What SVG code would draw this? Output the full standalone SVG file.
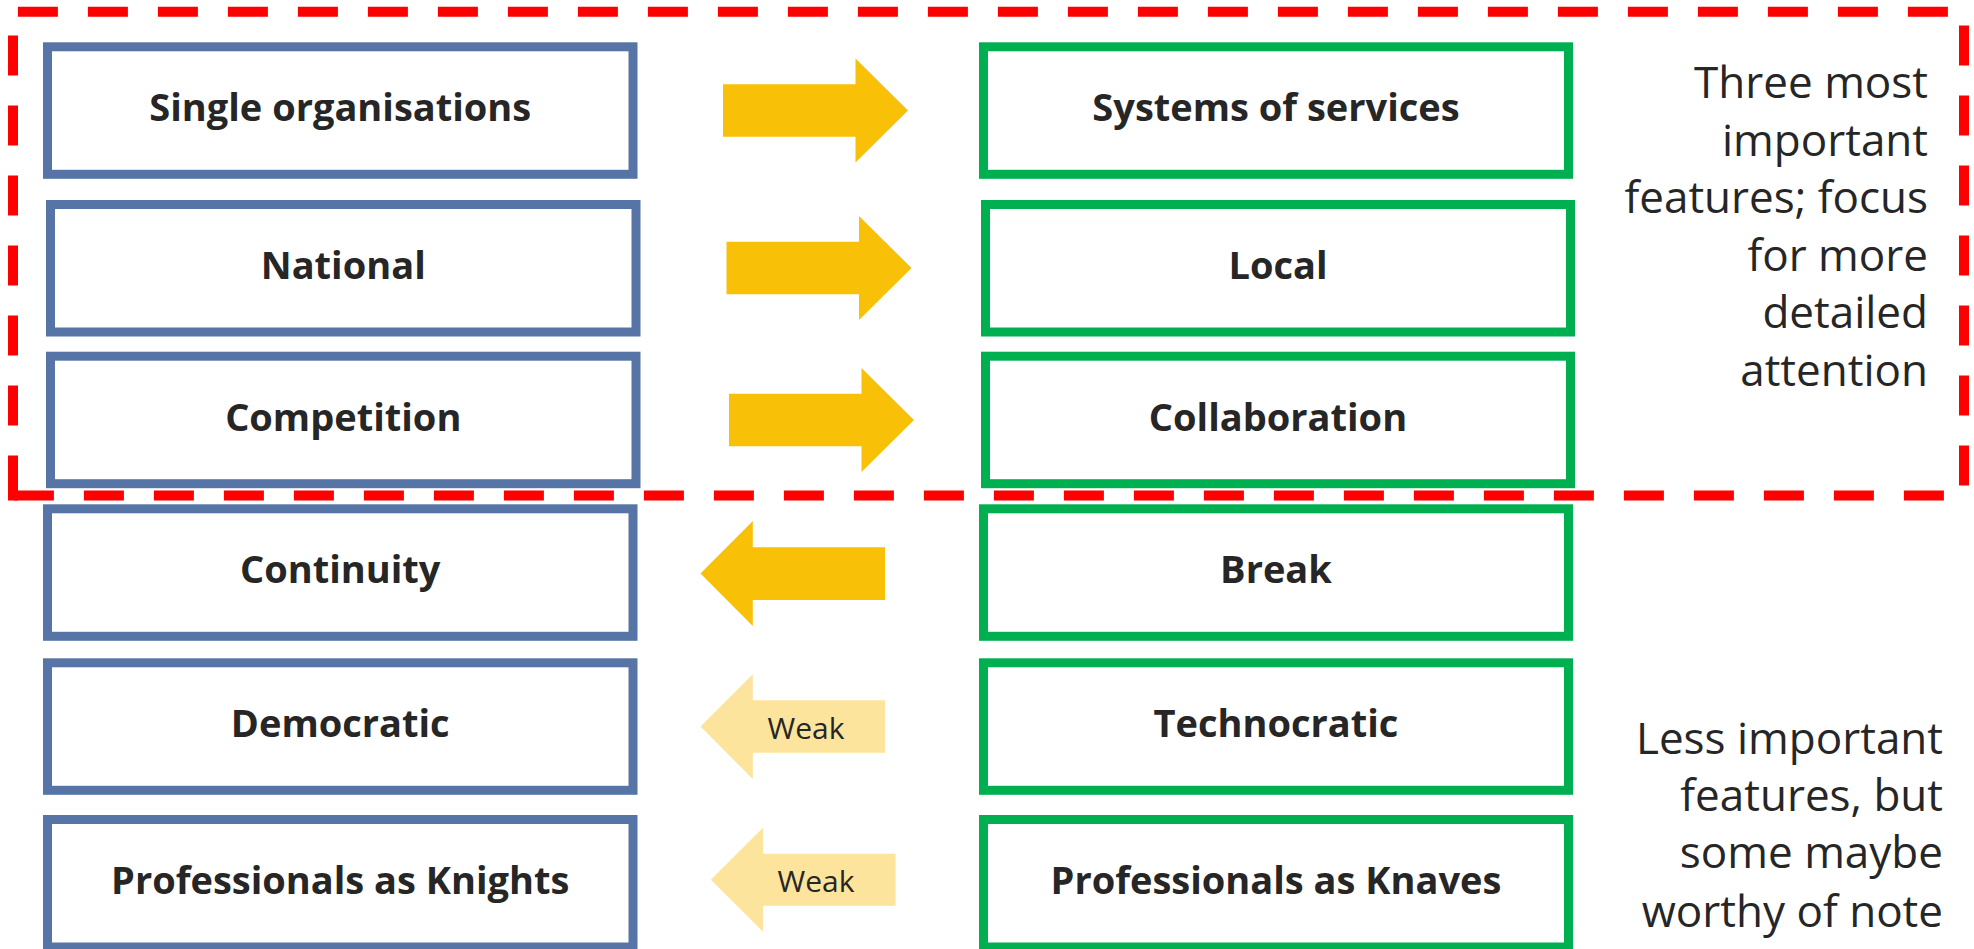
<svg xmlns="http://www.w3.org/2000/svg" width="1974" height="949" viewBox="0 0 1974 949">
  <style>
    .old { fill: #ffffff; stroke: #5675A6; stroke-width: 9; }
    .new { fill: #ffffff; stroke: #00B050; stroke-width: 9; }
    .lbl { font-family: "Open Sans", "Noto Sans", "Liberation Sans", sans-serif; font-weight: 700; font-size: 38px; fill: #262626; text-anchor: middle; }
    .note { font-family: "Open Sans", "Noto Sans", "Liberation Sans", sans-serif; font-size: 44px; fill: #262626; text-anchor: end; }
    .strong { fill: #F8C007; }
    .weak { fill: #FDE49D; }
    .weaklbl { font-family: "Open Sans", "Noto Sans", "Liberation Sans", sans-serif; font-size: 30px; fill: #262626; text-anchor: middle; }
    .frame { fill: none; stroke: #FF0000; stroke-width: 10; stroke-dasharray: 40 30; }
  </style>
  <rect width="1974" height="949" fill="#ffffff"/>

  <!-- dashed frame around the three key features -->
  <g id="focus-frame">
    <path class="frame" d="M13,11.7 H1964 V495.5 H13" stroke-dashoffset="65.1"/>
    <path class="frame" d="M13,495.5 V11.7"/>
    <rect x="8" y="490.5" width="10" height="10" fill="#FF0000"/>
  </g>

  <!-- left column -->
  <g id="single-organisations">
    <rect class="old" x="47.5" y="46.8" width="585.5" height="127.5"/>
    <text class="lbl" x="340.25" y="121">Single organisations</text>
  </g>
  <g id="national">
    <rect class="old" x="50.5" y="204.5" width="585.5" height="127.5"/>
    <text class="lbl" x="343.25" y="279">National</text>
  </g>
  <g id="competition">
    <rect class="old" x="50.5" y="356.2" width="585.5" height="127.5"/>
    <text class="lbl" x="343.25" y="430.5">Competition</text>
  </g>
  <g id="continuity">
    <rect class="old" x="47.5" y="508.8" width="585.5" height="127.5"/>
    <text class="lbl" x="340.25" y="583.3">Continuity</text>
  </g>
  <g id="democratic">
    <rect class="old" x="47.5" y="662.8" width="585.5" height="127.5"/>
    <text class="lbl" x="340.25" y="737">Democratic</text>
  </g>
  <g id="knights">
    <rect class="old" x="47.5" y="819.5" width="585.5" height="127.5"/>
    <text class="lbl" x="340.25" y="894">Professionals as Knights</text>
  </g>

  <!-- right column -->
  <g id="systems-of-services">
    <rect class="new" x="983.5" y="46.8" width="585" height="127.5"/>
    <text class="lbl" x="1276" y="121">Systems of services</text>
  </g>
  <g id="local">
    <rect class="new" x="985.5" y="204.5" width="585" height="127.5"/>
    <text class="lbl" x="1278" y="279">Local</text>
  </g>
  <g id="collaboration">
    <rect class="new" x="985.5" y="356.2" width="585" height="127.5"/>
    <text class="lbl" x="1278" y="430.5">Collaboration</text>
  </g>
  <g id="break">
    <rect class="new" x="983.5" y="508.8" width="585" height="127.5"/>
    <text class="lbl" x="1276" y="583.3">Break</text>
  </g>
  <g id="technocratic">
    <rect class="new" x="983.5" y="662.8" width="585" height="127.5"/>
    <text class="lbl" x="1276" y="737">Technocratic</text>
  </g>
  <g id="knaves">
    <rect class="new" x="983.5" y="819.5" width="585" height="127.5"/>
    <text class="lbl" x="1276" y="894">Professionals as Knaves</text>
  </g>

  <!-- block arrows between the columns -->
  <g id="connectors">
    <polygon class="strong" points="723,84.3 855.5,84.3 855.5,58.5 908,110.5 855.5,162.5 855.5,136.7 723,136.7"/>
    <polygon class="strong" points="726.5,241.8 859,241.8 859,216 911.5,268 859,320 859,294.2 726.5,294.2"/>
    <polygon class="strong" points="729,393.8 861.5,393.8 861.5,368 914,420 861.5,472 861.5,446.2 729,446.2"/>
    <polygon class="strong" points="700.5,573.5 752.8,521 752.8,547.3 885,547.3 885,600 752.8,600 752.8,626"/>
    <polygon class="weak" points="700.5,726.5 752.8,674.3 752.8,700.3 885,700.3 885,752.7 752.8,752.7 752.8,779"/>
    <text class="weaklbl" x="806" y="739">Weak</text>
    <polygon class="weak" points="710.8,879.7 763,827.7 763,853.7 895.6,853.7 895.6,905.7 763,905.7 763,931.7"/>
    <text class="weaklbl" x="816" y="891.7">Weak</text>
  </g>

  <!-- side notes -->
  <g id="note-top">
    <text class="note" x="1928" y="97.7">Three most</text>
    <text class="note" x="1928" y="156">important</text>
    <text class="note" x="1928" y="213.3">features; focus</text>
    <text class="note" x="1928" y="270.7">for more</text>
    <text class="note" x="1928" y="328.3">detailed</text>
    <text class="note" x="1928" y="385.7">attention</text>
  </g>
  <g id="note-bottom">
    <text class="note" x="1943" y="754">Less important</text>
    <text class="note" x="1943" y="810.7">features, but</text>
    <text class="note" x="1943" y="868.3">some maybe</text>
    <text class="note" x="1943" y="926.7">worthy of note</text>
  </g>
</svg>
